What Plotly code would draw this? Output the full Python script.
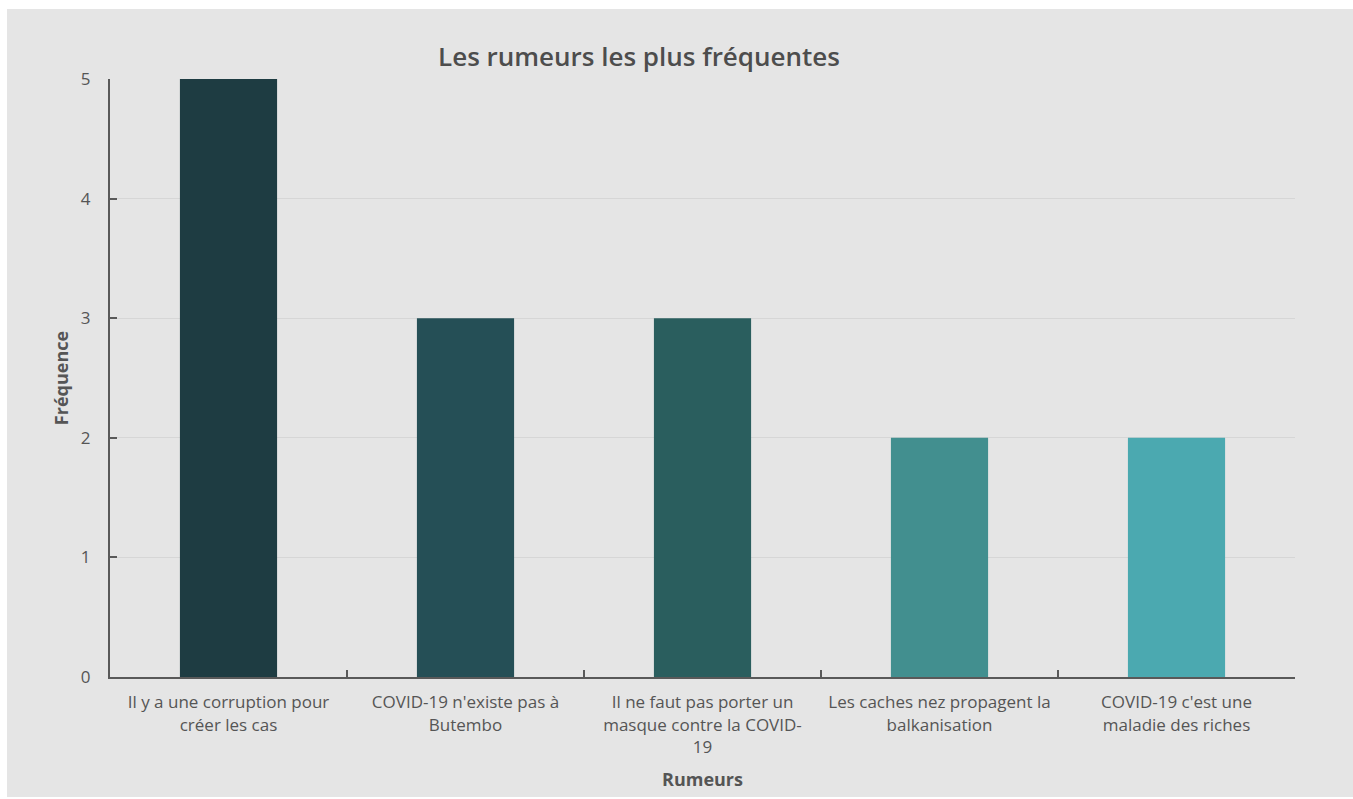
import plotly.graph_objects as go

categories = [
    "Il y a une corruption pour créer les cas",
    "COVID-19 n'existe pas à Butembo",
    "Il ne faut pas porter un masque contre la COVID-19",
    "Les caches nez propagent la balkanisation",
    "COVID-19 c'est une maladie des riches",
]
tick_labels = [
    "Il y a une corruption pour<br>créer les cas",
    "COVID-19 n'existe pas à<br>Butembo",
    "Il ne faut pas porter un<br>masque contre la COVID-<br>19",
    "Les caches nez propagent la<br>balkanisation",
    "COVID-19 c'est une<br>maladie des riches",
]
frequencies = [5, 3, 3, 2, 2]
bar_colors = ["#1e3c42", "#254f56", "#2a5e5e", "#428f8f", "#4ba9b0"]

FONT = "Open Sans"
TXT = "#555555"
BG = "#e5e5e5"

W, H = 1346, 788

fig = go.Figure(
    go.Bar(
        x=categories,
        y=frequencies,
        marker=dict(color=bar_colors, line=dict(width=0)),
        width=0.41,
        hoverinfo="x+y",
    )
)

fig.update_layout(
    width=W,
    height=H,
    autosize=False,
    paper_bgcolor=BG,
    plot_bgcolor=BG,
    margin=dict(l=103, r=58, t=70, b=120, pad=0),
    font=dict(family=FONT, color=TXT, size=16),
    showlegend=False,
    title=dict(
        text="Les rumeurs les plus fréquentes",
        font=dict(family=FONT, size=26, color="#4d4d4d", weight=600),
        x=(639 - 7) / W,
        xanchor="center",
        xref="container",
        y=1 - 48 / H,
        yanchor="middle",
        yref="container",
    ),
)

fig.update_xaxes(
    type="category",
    tickmode="array",
    tickvals=categories,
    ticktext=tick_labels,
    tickson="boundaries",
    ticks="inside",
    ticklen=7,
    tickwidth=2,
    tickcolor="#595959",
    showline=True,
    linecolor="#595959",
    linewidth=2,
    showgrid=False,
    tickfont=dict(family=FONT, size=17, color=TXT),
    ticklabelstandoff=9,
    title=dict(text="<b>Rumeurs</b>", font=dict(family=FONT, size=18, color=TXT), standoff=17),
    automargin=False,
    fixedrange=True,
)

fig.update_yaxes(
    range=[0, 5],
    tickmode="linear",
    tick0=0,
    dtick=1,
    ticks="inside",
    ticklen=7,
    tickwidth=2,
    tickcolor="#595959",
    showline=True,
    linecolor="#595959",
    linewidth=2,
    showgrid=True,
    gridcolor="#d6d6d6",
    gridwidth=1,
    zeroline=False,
    tickfont=dict(family=FONT, size=17, color=TXT),
    ticklabelstandoff=14,
    title=dict(text="<b>Fréquence</b>", font=dict(family=FONT, size=18, color=TXT), standoff=8),
    automargin=False,
    fixedrange=True,
)

fig.write_html(
    "out.html",
    config={"displayModeBar": False},
    post_script="document.body.style.margin='9px 0 0 7px';document.body.style.overflow='hidden';",
)
